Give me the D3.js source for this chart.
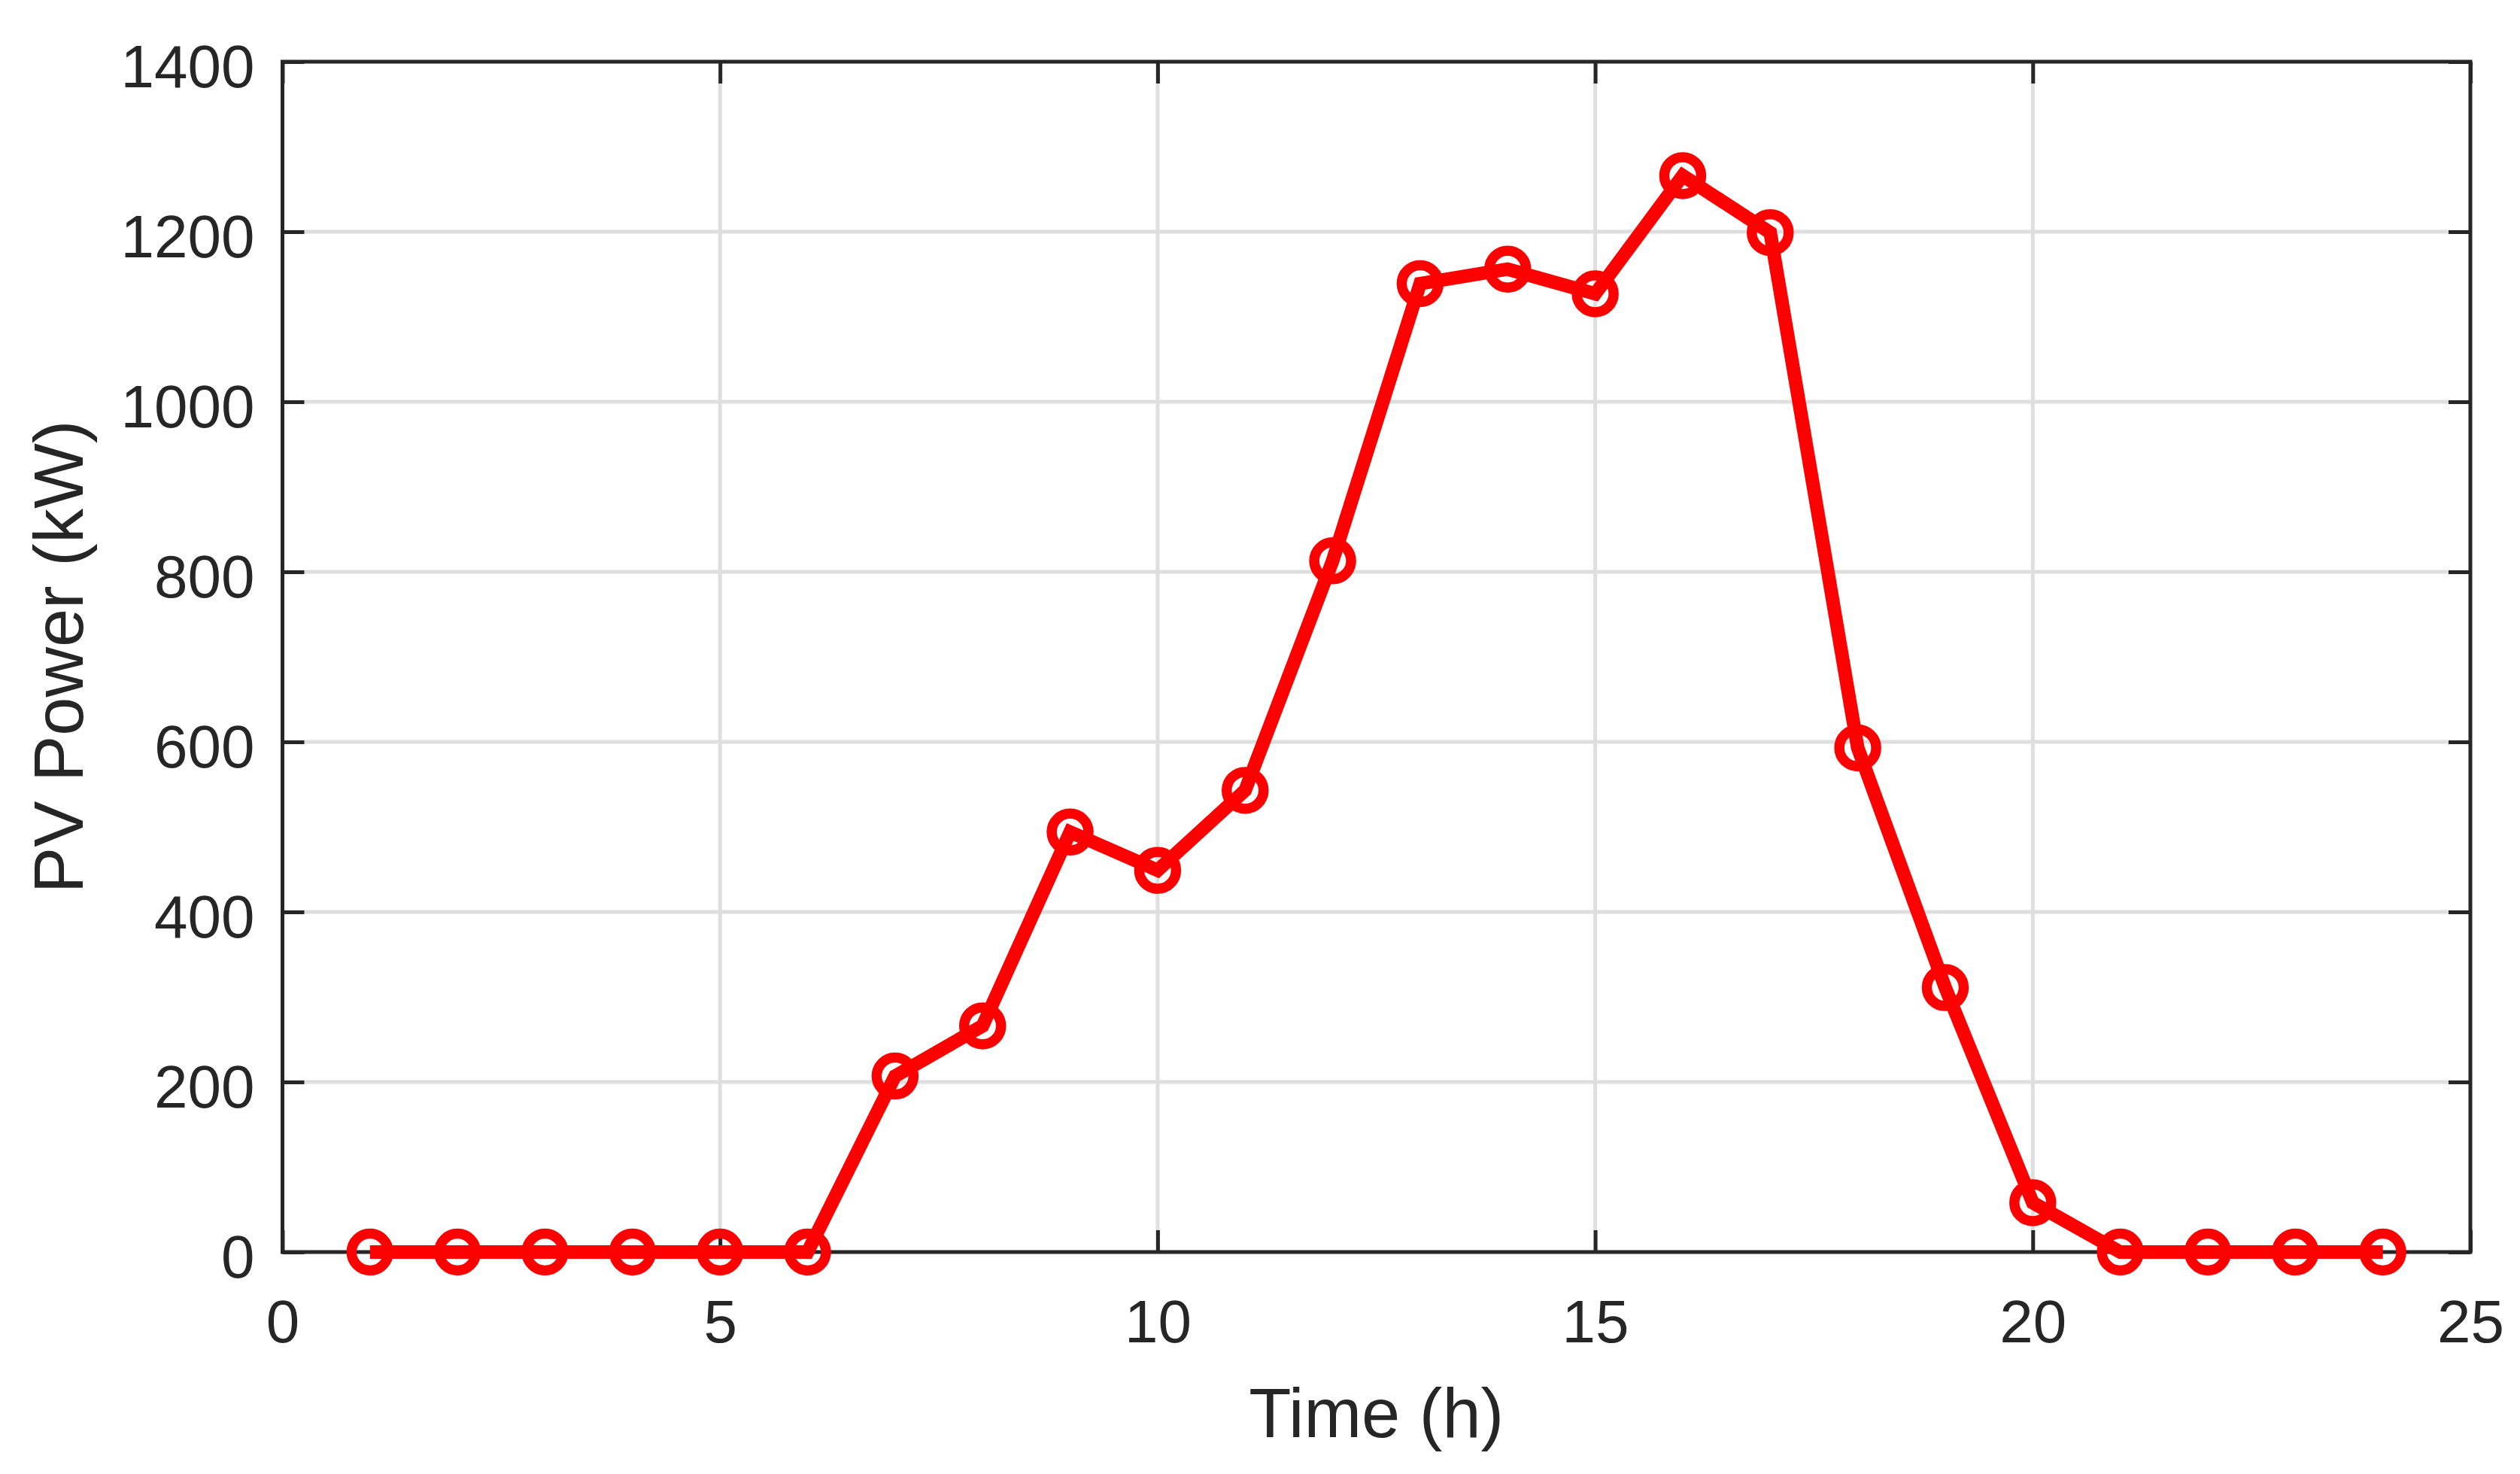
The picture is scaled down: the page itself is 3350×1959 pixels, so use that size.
<!DOCTYPE html>
<html>
<head>
<meta charset="utf-8">
<script src="https://cdn.jsdelivr.net/npm/d3@7"></script>
<style>
  html, body { margin: 0; padding: 0; background: #fff; }
  text { font-family: Arial, "Liberation Sans", Helvetica, sans-serif; fill: #262626; }
</style>
</head>
<body>
<svg id="chart" width="3350" height="1959"></svg>
<script>
// ---- data ----
const hours = [1,2,3,4,5,6,7,8,9,10,11,12,13,14,15,16,17,18,19,20,21,22,23,24];
const pvPower = [0,0,0,0,0,0,207,266,494,449,543,813,1139,1156,1127,1266,1199,593,311,58,0,0,0,0];
const xTicks = [0,5,10,15,20,25];
const yTicks = [0,200,400,600,800,1000,1200,1400];
const xLabel = "Time (h)";
const yLabel = "PV Power (kW)";

// ---- layout ----
const W = 3350, H = 1959;
const L = 375.5, R = 3284, T = 82, B = 1664;
const axisColor = "#262626";
const gridColor = "#dedede";
const tickLen = 29;

const svg = d3.select("#chart");
svg.append("rect").attr("width", W).attr("height", H).attr("fill", "#fff");

const x = d3.scaleLinear().domain([0, 25]).range([L, R]);
const y = d3.scaleLinear().domain([0, 1400]).range([B, T]);

// grid
const grid = svg.append("g");
grid.selectAll(".gx").data(xTicks.filter(d => d > 0 && d < 25)).join("line")
  .attr("x1", d => x(d)).attr("x2", d => x(d)).attr("y1", T).attr("y2", B)
  .attr("stroke", gridColor).attr("stroke-width", 5);
grid.selectAll(".gy").data(yTicks.filter(d => d > 0 && d < 1400)).join("line")
  .attr("x1", L).attr("x2", R).attr("y1", d => y(d)).attr("y2", d => y(d))
  .attr("stroke", gridColor).attr("stroke-width", 5);

// axes using d3 axes (inner ticks, all four sides)
function styleAxis(g) {
  g.select(".domain").remove();
  g.selectAll(".tick line").attr("stroke", axisColor).attr("stroke-width", 5);
}
const bottomAxis = svg.append("g").attr("transform", `translate(0,${B})`)
  .call(d3.axisBottom(x).tickValues(xTicks).tickSizeInner(-tickLen).tickSizeOuter(0).tickPadding(0).tickFormat(d3.format("d")));
styleAxis(bottomAxis);
bottomAxis.selectAll(".tick text").attr("font-size", 80).attr("fill", axisColor)
  .attr("y", 120).attr("dy", 0).style("font-family", "Arial, 'Liberation Sans', sans-serif");

const topAxis = svg.append("g").attr("transform", `translate(0,${T})`)
  .call(d3.axisTop(x).tickValues(xTicks).tickSizeInner(-tickLen).tickSizeOuter(0).tickFormat(""));
styleAxis(topAxis);

const leftAxis = svg.append("g").attr("transform", `translate(${L},0)`)
  .call(d3.axisLeft(y).tickValues(yTicks).tickSizeInner(-tickLen).tickSizeOuter(0).tickPadding(0).tickFormat(d3.format("d")));
styleAxis(leftAxis);
leftAxis.selectAll(".tick text").attr("font-size", 80).attr("fill", axisColor)
  .attr("x", -37).attr("dy", 33).style("font-family", "Arial, 'Liberation Sans', sans-serif");

const rightAxis = svg.append("g").attr("transform", `translate(${R},0)`)
  .call(d3.axisRight(y).tickValues(yTicks).tickSizeInner(-tickLen).tickSizeOuter(0).tickFormat(""));
styleAxis(rightAxis);

// box
svg.append("rect").attr("x", L).attr("y", T).attr("width", R - L).attr("height", B - T)
  .attr("fill", "none").attr("stroke", axisColor).attr("stroke-width", 5);

// data line
const pts = hours.map((h, i) => [h, pvPower[i]]);
svg.append("path").datum(pts)
  .attr("d", d3.line().x(d => x(d[0])).y(d => y(d[1])))
  .attr("fill", "none").attr("stroke", "#ff0000").attr("stroke-width", 18)
  .attr("stroke-linejoin", "miter");

svg.append("g").selectAll("circle").data(pts).join("circle")
  .attr("cx", d => x(d[0])).attr("cy", d => y(d[1])).attr("r", 24.5)
  .attr("fill", "none").attr("stroke", "#ff0000").attr("stroke-width", 13.5);

// labels
svg.append("text").attr("x", (L + R) / 2).attr("y", 1910)
  .attr("text-anchor", "middle").attr("font-size", 92).text(xLabel);
svg.append("text").attr("transform", `translate(110,${(T + B) / 2}) rotate(-90)`)
  .attr("text-anchor", "middle").attr("font-size", 92).text(yLabel);
</script>
</body>
</html>
